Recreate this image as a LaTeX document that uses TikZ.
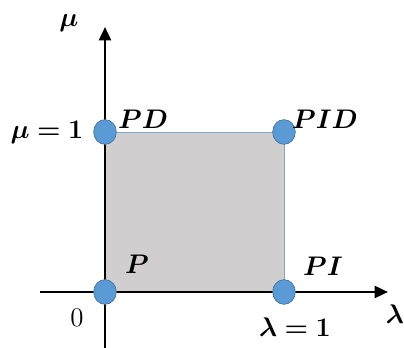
\documentclass[tikz,border=0pt]{standalone}
\usepackage{amsmath,bm}
\usetikzlibrary{arrows.meta,shapes.geometric}
\definecolor{cdot}{HTML}{5B9BD5}
\definecolor{cdotd}{HTML}{41719C}
\definecolor{cregion}{HTML}{D0CECE}
\definecolor{cedge}{HTML}{7FA7D3}
\newcommand{\lbl}[1]{$\bm{#1}$}

\begin{document}
\begin{tikzpicture}[
  x=0.75pt, y=0.75pt,
  font=\Large,
  axis/.style={line width=1.8pt, -{Triangle[length=10pt,width=9pt]}},
  region/.style={fill=cregion, draw=cedge, line width=0.6pt},
  dot/.style={ellipse, fill=cdot, draw=cdotd, line width=0.5pt, minimum width=17pt, minimum height=18.5pt, inner sep=0pt},
  tag/.style={inner sep=1pt, scale=1.4},
]
\useasboundingbox (0,0) rectangle (404,348);

% ------------------------------------------------------------ corners
\coordinate (o) at (105,56);
\coordinate (c1) at (284,56);
\coordinate (c2) at (105,216);
\coordinate (c3) at (284,216);
\coordinate (xs) at (40,56);
\coordinate (xe) at (388,56);
\coordinate (ys) at (105,0);
\coordinate (ye) at (105,321);

% ------------------------------------------------------------ region and axes
\draw[region] (o) rectangle (c3);
\draw[axis] (xs) -- (xe);
\draw[axis] (ys) -- (ye);

% ------------------------------------------------------------ controllers
\node[dot] (p) at (o) {};
\node[dot] (pi) at (c1) {};
\node[dot] (pd) at (c2) {};
\node[dot] (pid) at (c3) {};

\node[tag] (plbl) at (137,84) {\lbl{P}};
\node[tag] (pilbl) at (323,82) {\lbl{PI}};
\node[tag] (pdlbl) at (143,229) {\lbl{PD}};
\node[tag] (pidlbl) at (325,229) {\lbl{PID}};

% ------------------------------------------------------------ axis labels
\node[tag] (mu) at (69,325) {\lbl{\mu}};
\node[tag] (muone) at (47,216) {\lbl{\mu=1}};
\node[tag] (lam) at (395,34) {\lbl{\lambda}};
\node[tag] (lamone) at (295,21) {\lbl{\lambda=1}};
\node[tag] (zero) at (77,30) {0};

\end{tikzpicture}
\end{document}
